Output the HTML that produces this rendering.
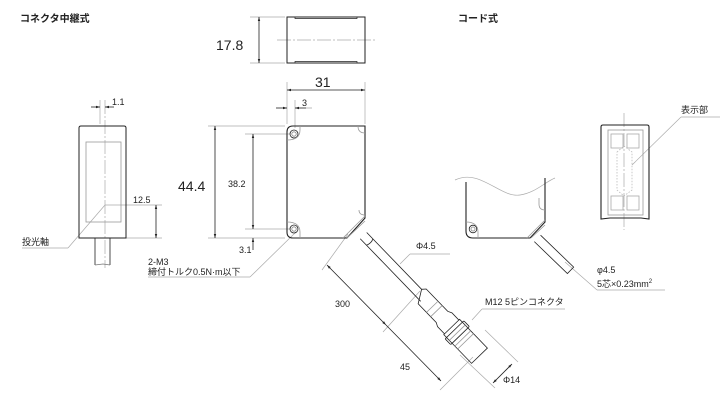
<!DOCTYPE html>
<html><head><meta charset="utf-8"><style>
html,body{margin:0;padding:0;background:#fff;}
svg{display:block;}
text{font-family:"Liberation Sans","Noto Sans CJK JP",sans-serif;fill:#222;}
</style></head><body>
<svg width="725" height="402" viewBox="0 0 725 402" xmlns="http://www.w3.org/2000/svg">
<defs>
<marker id="a" viewBox="0 0 10 10" refX="10" refY="5" markerWidth="5" markerHeight="5" orient="auto-start-reverse"><path d="M0,2 L10,5 L0,8z" fill="#222"/></marker>
</defs>
<g stroke="#aaa" stroke-width="0.7" fill="none">
<line x1="250" y1="17" x2="285" y2="17"/><line x1="250" y1="63" x2="285" y2="63"/>
<line x1="287" y1="82" x2="287" y2="124"/><line x1="365" y1="82" x2="365" y2="124"/>
<line x1="295" y1="100" x2="295" y2="128"/>
<line x1="208" y1="126" x2="285" y2="126"/><line x1="208" y1="238" x2="285" y2="238"/>
<line x1="245" y1="134" x2="290" y2="134"/><line x1="245" y1="229" x2="290" y2="229"/>
<line x1="100" y1="100" x2="100" y2="124"/>
<line x1="105" y1="205" x2="162" y2="205"/><line x1="126" y1="238" x2="162" y2="238"/>
<line x1="22" y1="248" x2="68" y2="248"/><line x1="68" y1="248" x2="105" y2="205"/>
<line x1="148" y1="277" x2="250" y2="277"/><line x1="250" y1="277" x2="296" y2="232"/>
<line x1="277" y1="40" x2="375" y2="40" stroke-dasharray="14,2,2,2"/>
<line x1="105" y1="100" x2="105" y2="268" stroke-dasharray="14,2,2,2"/>
<line x1="624" y1="113" x2="624" y2="230" stroke-dasharray="14,2,2,2"/>
<line x1="681" y1="117" x2="720" y2="117"/><line x1="681" y1="117" x2="632" y2="165"/>
<line x1="597" y1="290" x2="665" y2="290"/><line x1="597" y1="290" x2="565" y2="262"/>
<line x1="482" y1="309" x2="565" y2="309"/><line x1="482" y1="309" x2="472" y2="320"/>
<line x1="410" y1="254" x2="450" y2="254"/><line x1="410" y1="254" x2="400" y2="264"/>
<line x1="348" y1="234" x2="322" y2="270"/>
<line x1="420" y1="291" x2="383" y2="332"/>
<line x1="473" y1="357" x2="440" y2="390"/>
<line x1="460" y1="355" x2="495" y2="388"/><line x1="485" y1="330" x2="518" y2="362"/>
<path d="M455,180 C480,168 500,198 520,195 C535,193 545,182 555,178"/>
</g>
<g stroke="#222" stroke-width="0.8" fill="none">
<line x1="259" y1="17" x2="259" y2="63" marker-start="url(#a)" marker-end="url(#a)"/>
<line x1="287" y1="90" x2="365" y2="90" marker-start="url(#a)" marker-end="url(#a)"/>
<line x1="276" y1="108" x2="287" y2="108" marker-end="url(#a)"/><line x1="306" y1="108" x2="295" y2="108" marker-end="url(#a)"/><line x1="306" y1="108" x2="312" y2="108" stroke="#aaa"/>
<line x1="215" y1="126" x2="215" y2="238" marker-start="url(#a)" marker-end="url(#a)"/>
<line x1="253" y1="134" x2="253" y2="229" marker-start="url(#a)" marker-end="url(#a)"/>
<line x1="253" y1="250" x2="253" y2="238" marker-end="url(#a)"/>
<line x1="91" y1="107" x2="100" y2="107" marker-end="url(#a)"/><line x1="114" y1="107" x2="105" y2="107" marker-end="url(#a)"/>
<line x1="156" y1="205" x2="156" y2="238" marker-start="url(#a)" marker-end="url(#a)"/>
<line x1="327" y1="265" x2="386" y2="325" marker-start="url(#a)" marker-end="url(#a)"/>
<line x1="386" y1="325" x2="441" y2="381" marker-end="url(#a)"/>
<line x1="493" y1="383" x2="512" y2="364" marker-start="url(#a)" marker-end="url(#a)"/>
<path d="M287,17 H365 V63 H287 Z" stroke-width="1"/>
<path d="M295,17 V18.5 H357 V17 M295,63 V61.5 H357 V63" stroke-width="0.7"/>
<path d="M79,128 Q79,126 81,126 H124 Q126,126 126,128 V238 H79 Z" stroke-width="1"/>
<rect x="86" y="142" width="35" height="80" stroke="#999"/>
<path d="M95,238 V265 M110,238 V265"/>
<path d="M95,265 L103,264 L110,265" stroke="#777"/>
<path d="M293,126 H365 V218 L347,238 H293 Q287,238 287,232 V132 Q287,126 293,126 Z" stroke-width="1.1"/>
<circle cx="294" cy="134" r="4"/><circle cx="294" cy="134" r="2.2" stroke="#888"/>
<circle cx="294" cy="229" r="4"/><circle cx="294" cy="229" r="2.2" stroke="#888"/>
<path d="M287,140 Q300,140 300,130 V126" stroke="#999"/><path d="M287,222 Q300,222 300,232 V238" stroke="#999"/>
<path d="M365,133 Q358,133 358,126" stroke="#999"/><path d="M365,215 Q359,215 359,210" stroke="#999"/>
<path d="M343,238 L365,216 M347,238 L365,221" stroke="#999"/>
<g transform="translate(360,232) rotate(46)">
<path d="M5,-4.5 H84 M5,4.5 H92"/>
<path d="M14,-4.5 Q16,0 14,4.5"/>
<path d="M84,-4.5 L87,-8 H118 L122,-10 H132 V-11 H172 V11 H132 V10 H122 L118,8 H92 Z"/>
<line x1="104" y1="-8" x2="104" y2="8" stroke="#999"/>
<line x1="110" y1="-8" x2="110" y2="8" stroke="#999"/>
<line x1="132" y1="-10" x2="132" y2="10"/>
<line x1="140" y1="-11" x2="140" y2="11" stroke="#999"/>
<line x1="144" y1="-11" x2="144" y2="11" stroke="#999"/>
<line x1="148" y1="-11" x2="148" y2="11" stroke="#999"/>
<line x1="152" y1="-11" x2="152" y2="11" stroke="#999"/>
<rect x="136" y="-13" width="8" height="26" rx="1"/>
</g>
<path d="M466,182 V231 Q466,238 473,238 H530 L545,222 V178" stroke-width="1.1"/>
<circle cx="473" cy="229" r="3.8"/><circle cx="473" cy="229" r="2" stroke="#888"/>
<path d="M466,222 Q478,222 478,232 V238" stroke="#999"/>
<path d="M545,210 Q539,210 539,204 V198" stroke="#999"/>
<path d="M527,238 L545,220 M531,238 L545,225" stroke="#999"/>
<g transform="translate(536,237) rotate(44)"><path d="M2,-4.5 H48 V4.5 H2"/></g>
<path d="M603,125 H647 Q649,125 649,127 V219 L641,218 H610 L601,219 V127 Q601,125 603,125 Z" stroke-width="1.1"/>
<rect x="608" y="130" width="35" height="85" stroke="#999"/>
<rect x="611" y="134" width="12" height="14" stroke="#aaa"/><rect x="627" y="134" width="12" height="14" stroke="#aaa"/>
<rect x="611" y="196" width="12" height="14" stroke="#aaa"/><rect x="627" y="196" width="12" height="14" stroke="#aaa"/>
<path d="M617,152 L624,146 L632,152 V190 L624,196 L617,190 Z" stroke="#bbb" stroke-dasharray="1.5,1.5"/>
</g>
<g font-size="9">
<text x="20" y="22" font-size="10" font-weight="bold">コネクタ中継式</text>
<text x="458" y="22" font-size="10" font-weight="bold">コード式</text>
<text x="216" y="50" font-size="14">17.8</text>
<text x="315" y="87" font-size="14">31</text>
<text x="302" y="106">3</text>
<text x="178" y="191" font-size="14">44.4</text>
<text x="228" y="187">38.2</text>
<text x="239" y="253">3.1</text>
<text x="112" y="105">1.1</text>
<text x="133" y="203">12.5</text>
<text x="22" y="245">投光軸</text>
<text x="148" y="265">2-M3</text>
<text x="148" y="275">締付トルク0.5N·m以下</text>
<text x="416" y="249">Φ4.5</text>
<text x="335" y="307">300</text>
<text x="485" y="305">M12 5ピンコネクタ</text>
<text x="400" y="370">45</text>
<text x="503" y="383">Φ14</text>
<text x="681" y="113">表示部</text>
<text x="597" y="273">φ4.5</text>
<text x="597" y="287">5芯×0.23mm<tspan font-size="6" dy="-4">2</tspan></text>
</g>
</svg>
</body></html>
